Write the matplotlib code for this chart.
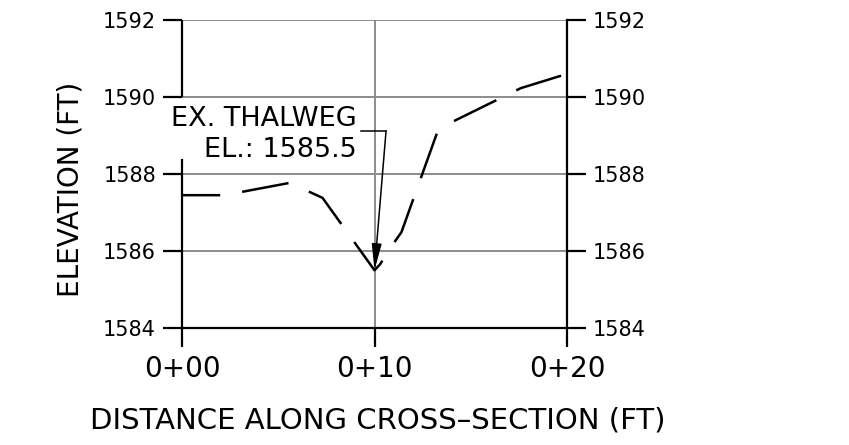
import matplotlib
matplotlib.use('Agg')
from matplotlib import pyplot as plt

# ground profile (distance ft, elevation ft)
station = [0.0, 2.2, 5.6, 7.3, 10.0, 10.3, 10.6, 11.4, 13.3, 13.7, 17.6, 20.0]
elevation = [1587.45, 1587.45, 1587.77, 1587.38, 1585.5, 1585.66, 1585.92,
             1586.49, 1589.14, 1589.27, 1590.23, 1590.6]

x_ticks = [0, 10, 20]
x_tick_labels = ['0+00', '0+10', '0+20']
y_ticks = [1584, 1586, 1588, 1590, 1592]

thalweg_x = 10.0
thalweg_el = 1585.5

plt.rcParams['font.family'] = ['DejaVu Sans']
plt.rcParams['lines.scale_dashes'] = False

W, H = 849, 445
fig = plt.figure(figsize=(W / 100, H / 100), dpi=100)
ax = fig.add_axes([182 / W, 1 - 328 / H, (567 - 182) / W, (328 - 20) / H])
ax.set_xlim(0, 20)
ax.set_ylim(1584, 1592)

lw = 1.6
grey = '#8c8c8c'

# grid
for y in y_ticks[1:]:
    ax.axhline(y, color=grey, lw=1.4, zorder=1)
ax.axvline(10, color=grey, lw=1.4, zorder=1)

# frame, left side broken where the callout text sits
for s in ['top', 'left']:
    ax.spines[s].set_visible(False)
for s in ['bottom', 'right']:
    ax.spines[s].set_linewidth(lw)
    ax.spines[s].set_color('black')
ax.vlines(0, 1590, 1592, color='black', lw=lw, zorder=3, clip_on=False)
ax.vlines(0, 1584, 1588.4, color='black', lw=lw, zorder=3, clip_on=False)

ax.set_xticks(x_ticks)
ax.set_xticklabels(x_tick_labels)
ax.set_yticks(y_ticks)
ax.tick_params(axis='x', direction='out', length=13.7, width=lw, pad=5.5,
               labelsize=20)
ax.tick_params(axis='y', direction='out', length=13.7, width=lw, pad=5,
               labelsize=15, left=True, right=True,
               labelleft=True, labelright=True)

# ground line
ax.plot(station, elevation, color='black', lw=1.8,
        linestyle=(6.5, (34, 16)), zorder=4)

# thalweg callout
tx = 9.09
ax.text(tx, 1589.25, 'EX. THALWEG', fontsize=19.5, ha='right', va='baseline')
ax.text(tx, 1588.44, 'EL.: 1585.5', fontsize=19.5, ha='right', va='baseline')
ax.plot([9.3, 10.6], [1589.12, 1589.12], color='black', lw=1.1)
ax.annotate('', xy=(thalweg_x, thalweg_el), xytext=(10.6, 1589.12),
            arrowprops=dict(arrowstyle='-|>,head_length=0.8,head_width=0.15',
                            color='black', lw=1.1, shrinkA=0, shrinkB=0,
                            mutation_scale=20),
            zorder=5)

fig.text(378 / W, 1 - 428 / H, 'DISTANCE ALONG CROSS\u2013SECTION (FT)',
         fontsize=21, ha='center', va='baseline')
fig.text(70 / W, 1 - 189 / H, 'ELEVATION (FT)', fontsize=20,
         rotation=90, ha='center', va='center')

fig.savefig('out.png', dpi=100)
